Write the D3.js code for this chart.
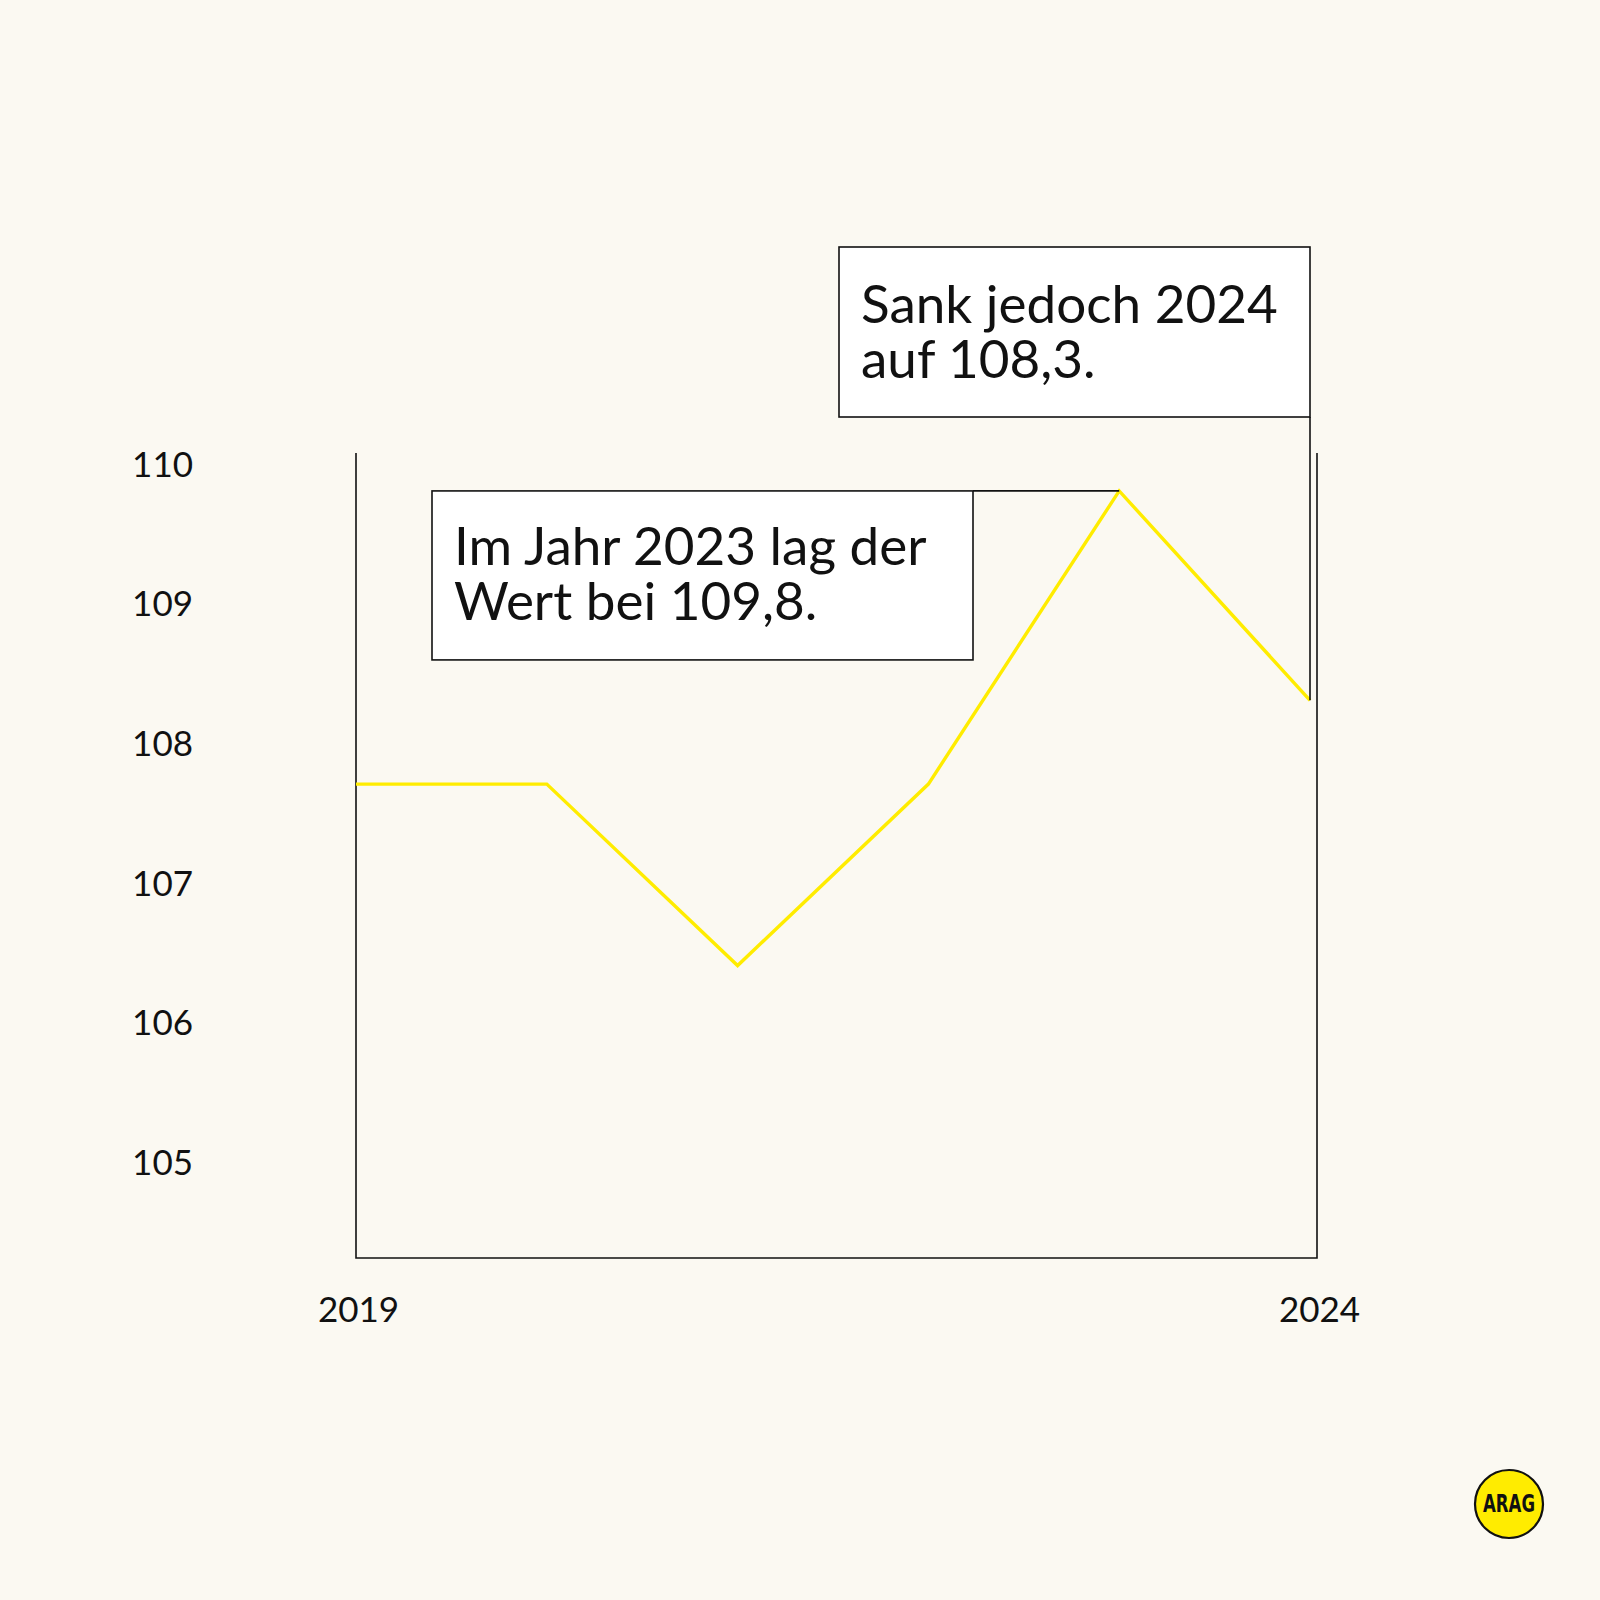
<!DOCTYPE html>
<html>
<head>
<meta charset="utf-8">
<script src="https://cdn.jsdelivr.net/npm/d3@7"></script>
<style>
  html, body { margin: 0; padding: 0; background: #fbf9f2; }
  svg { display: block; }
  text { font-family: "Lato", "Noto Sans", sans-serif; font-weight: 400; fill: #111; }
</style>
</head>
<body>
<svg id="chart" width="1600" height="1600"></svg>
<script>
// ---- data ----
const years = [2019, 2020, 2021, 2022, 2023, 2024];
const values = [107.7, 107.7, 106.4, 107.7, 109.8, 108.3];
const yTicks = [105, 106, 107, 108, 109, 110];
const xTickLabels = [2019, 2024];
const note2023 = ["Im Jahr 2023 lag der", "Wert bei 109,8."];
const note2024 = ["Sank jedoch 2024", "auf 108,3."];

const svg = d3.select("#chart");
svg.append("rect").attr("width", 1600).attr("height", 1600).attr("fill", "#fbf9f2");

const x = d3.scaleLinear().domain([2019, 2024]).range([356, 1310]);
const xLab = d3.scaleLinear().domain([2019, 2024]).range([358, 1319]);
const y = d3.scaleLinear().domain([105, 110]).range([1161, 463]);

// frame
const frame = { left: 356, right: 1317, top: 453, bottom: 1258 };
svg.append("path")
  .attr("d", `M${frame.left},${frame.top}V${frame.bottom}H${frame.right}V${frame.top}`)
  .attr("fill", "none").attr("stroke", "#111").attr("stroke-width", 1.6);

// y axis labels
const yAxis = svg.append("g").attr("transform", "translate(193,0)")
  .call(d3.axisLeft(y).tickValues(yTicks).tickSize(0).tickPadding(0).tickFormat(d3.format("d")));
yAxis.select(".domain").remove();
yAxis.selectAll("text").style("font-size", "35px").attr("fill", "#111")
  .style("font-family", "Lato, 'Noto Sans', sans-serif").style("font-weight", "400").attr("dy", "0.38em");

// x axis labels
const xAxis = svg.append("g").attr("transform", "translate(0,1309)")
  .call(d3.axisBottom(xLab).tickValues(xTickLabels).tickSize(0).tickPadding(0).tickFormat(d3.format("d")));
xAxis.select(".domain").remove();
xAxis.selectAll("text").style("font-size", "35px").attr("fill", "#111")
  .style("font-family", "Lato, 'Noto Sans', sans-serif").style("font-weight", "400").attr("dy", "0.36em");

// line
const data = years.map((yr, i) => ({ yr, v: values[i] }));
svg.append("path").datum(data)
  .attr("d", d3.line().x(d => x(d.yr)).y(d => y(d.v)))
  .attr("fill", "none").attr("stroke", "#ffec00").attr("stroke-width", 3.4)
  .attr("stroke-linejoin", "miter");

function note(lines, bx, by) {
  const t = svg.append("text").style("font-size", "53px");
  lines.forEach((s, i) => {
    t.append("tspan").attr("x", bx).attr("y", by + i * 55).text(s);
  });
}

// annotation 2023
const p23 = data[4];
const b1 = { x: 432, y: y(p23.v), w: 541, h: 169 };
svg.append("line").attr("x1", b1.x + b1.w).attr("x2", x(p23.yr))
  .attr("y1", y(p23.v)).attr("y2", y(p23.v)).attr("stroke", "#111").attr("stroke-width", 1.6);
svg.append("rect").attr("x", b1.x).attr("y", b1.y).attr("width", b1.w).attr("height", b1.h)
  .attr("fill", "#ffffff").attr("stroke", "#111").attr("stroke-width", 1.6);
note(note2023, b1.x + 22, b1.y + 74);

// annotation 2024
const p24 = data[5];
const b2 = { x: 839, y: 247, w: 471, h: 170 };
svg.append("line").attr("x1", x(p24.yr)).attr("x2", x(p24.yr))
  .attr("y1", b2.y + b2.h).attr("y2", y(p24.v)).attr("stroke", "#111").attr("stroke-width", 1.6);
svg.append("rect").attr("x", b2.x).attr("y", b2.y).attr("width", b2.w).attr("height", b2.h)
  .attr("fill", "#ffffff").attr("stroke", "#111").attr("stroke-width", 1.6);
note(note2024, b2.x + 22, b2.y + 76);

// logo
const logo = svg.append("g").attr("transform", "translate(1509,1504)");
logo.append("circle").attr("r", 34).attr("fill", "#ffec00").attr("stroke", "#111").attr("stroke-width", 2.2);
logo.append("text").attr("text-anchor", "middle").attr("dy", "0.35em")
  .attr("textLength", 52).attr("lengthAdjust", "spacingAndGlyphs")
  .style("font-size", "24px").style("font-weight", "700")
  .style("font-family", "'Liberation Sans Narrow', 'DejaVu Sans Condensed', sans-serif")
  .text("ARAG");
</script>
</body>
</html>
